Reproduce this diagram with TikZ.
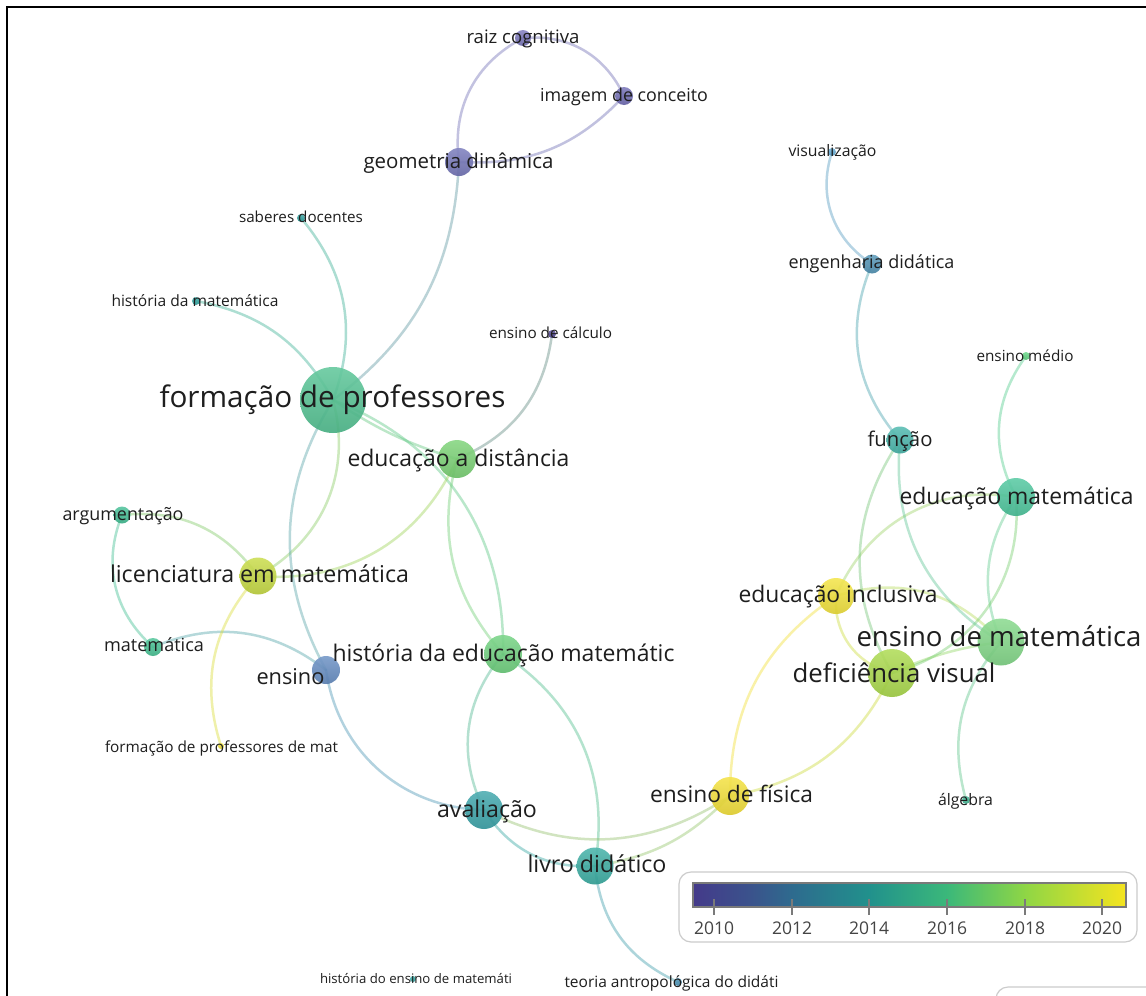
\documentclass[tikz,border=0pt]{standalone}
\usepackage{fontspec}
\setmainfont{Open Sans}
\usetikzlibrary{backgrounds}

\definecolor{colraiz}{HTML}{7470B8}
\definecolor{colimag}{HTML}{6B67B2}
\definecolor{colgeom}{HTML}{6E70B6}
\definecolor{colcalc}{HTML}{4A3F8F}
\definecolor{colsab}{HTML}{2A9E9B}
\definecolor{colhmat}{HTML}{2CA39F}
\definecolor{colform}{HTML}{4CC08E}
\definecolor{coldist}{HTML}{74D06E}
\definecolor{colvis}{HTML}{5AA5D0}
\definecolor{coleng}{HTML}{4A8FB2}
\definecolor{colmedio}{HTML}{5CD37E}
\definecolor{colfunc}{HTML}{40B3A8}
\definecolor{colemat}{HTML}{44C398}
\definecolor{colarg}{HTML}{3BBC90}
\definecolor{collic}{HTML}{C4D93A}
\definecolor{colincl}{HTML}{F2E233}
\definecolor{colensmat}{HTML}{7CD682}
\definecolor{colmat}{HTML}{40C090}
\definecolor{colensino}{HTML}{5F88C0}
\definecolor{colhed}{HTML}{68CF78}
\definecolor{coldef}{HTML}{A6D842}
\definecolor{colfpm}{HTML}{F0E030}
\definecolor{colfis}{HTML}{F3DF2F}
\definecolor{colalg}{HTML}{3AB38F}
\definecolor{colaval}{HTML}{32A0A6}
\definecolor{collivro}{HTML}{32AA9F}
\definecolor{colhens}{HTML}{2AA3A0}
\definecolor{colteoria}{HTML}{4590B5}
\definecolor{labelcol}{HTML}{1E1E1E}
\definecolor{legboxcol}{HTML}{CCCCCC}
\definecolor{tickcol}{HTML}{7A7A7A}
\definecolor{yearcol}{HTML}{444444}
\definecolor{v0}{HTML}{443A8A}
\definecolor{v1}{HTML}{3A548C}
\definecolor{v2}{HTML}{2E6B8E}
\definecolor{v3}{HTML}{21918C}
\definecolor{v4}{HTML}{3BB87A}
\definecolor{v5}{HTML}{8FD645}
\definecolor{v6}{HTML}{F5E41F}

\newcommand\fitw[2]{\setbox0=\hbox{\fontsize{10pt}{12pt}\selectfont #2}%
  \dimen0=\dimexpr 10pt*\numexpr #1*65536\relax/\numexpr\wd0\relax\relax
  \edef\fitsz{\the\dimen0}%
  \fontsize{\fitsz}{\fitsz}\selectfont #2}

\tikzset{
  kw/.style 2 args={circle, inner sep=0pt, minimum size=2*#1,
    top color=#2!85!white, bottom color=#2!90!black, fill opacity=0.9},
  lbl/.style={anchor=base, inner sep=0pt, text=labelcol},
  lnk/.style={line width=2.5pt, draw opacity=0.42, line cap=round},
  yearlbl/.style={anchor=base, inner sep=0pt, text=yearcol},
  tickmark/.style={draw=tickcol, line width=1.2pt},
}

\newcommand\kwn[4]{\node[kw={#4}{col#1}] (#1) at (#2,#3) {};}
\newcommand\lnk[3]{\draw[lnk, draw=col#1!50!col#2] (#1.center) to[#3] (#2.center);}

\begin{document}
\begin{tikzpicture}[x=1pt,y=-1pt]
\useasboundingbox (0,0) rectangle (1146,996);

% nodes
\kwn{raiz}{523}{38}{8}
\kwn{imag}{624}{96}{9}
\kwn{geom}{459}{162}{14}
\kwn{sab}{301}{218}{4}
\kwn{hmat}{196}{301}{4}
\kwn{calc}{552}{334}{4}
\kwn{form}{333}{400}{33}
\kwn{dist}{457}{459}{19}
\kwn{vis}{832}{152}{4}
\kwn{eng}{872}{264}{9.5}
\kwn{medio}{1026}{356}{4}
\kwn{func}{900}{440}{13.5}
\kwn{emat}{1016}{497}{19}
\kwn{arg}{122}{515}{8.5}
\kwn{lic}{258}{576}{18.5}
\kwn{incl}{836}{596}{18}
\kwn{ensmat}{1001}{642}{23.5}
\kwn{mat}{153}{647}{9}
\kwn{ensino}{326}{670}{14}
\kwn{hed}{503}{654}{19}
\kwn{def}{892}{673}{24}
\kwn{fpm}{221}{746}{3}
\kwn{fis}{730}{796}{19}
\kwn{alg}{966}{800}{4}
\kwn{aval}{484}{810}{19}
\kwn{livro}{595}{866}{18.5}
\kwn{hens}{413}{979}{3}
\kwn{teoria}{678}{982}{4}

% links
\begin{pgfonlayer}{background}
\fill[white] (0,0) rectangle (1146,996);
\lnk{raiz}{imag}{bend left=35}
\lnk{raiz}{geom}{bend right=35}
\lnk{imag}{geom}{bend left=25}
\lnk{geom}{form}{bend left=25}
\lnk{sab}{form}{bend left=30}
\lnk{hmat}{form}{bend left=25}
\lnk{calc}{dist}{bend left=30}
\lnk{form}{dist}{bend right=8}
\lnk{form}{hed}{bend left=35}
\lnk{dist}{hed}{bend right=28}
\lnk{dist}{lic}{bend left=35}
\lnk{form}{lic}{bend left=38}
\lnk{form}{ensino}{bend right=30}
\lnk{arg}{lic}{bend left=30}
\lnk{arg}{mat}{bend right=35}
\lnk{mat}{ensino}{bend left=30}
\lnk{lic}{fpm}{bend right=30}
\lnk{ensino}{aval}{bend right=40}
\lnk{hed}{aval}{bend right=33}
\lnk{hed}{livro}{bend left=33}
\lnk{aval}{livro}{bend right=30}
\lnk{aval}{fis}{bend right=30}
\lnk{livro}{fis}{bend right=18}
\lnk{livro}{teoria}{bend right=30}
\lnk{fis}{incl}{bend left=28}
\lnk{fis}{def}{bend right=27}
\lnk{incl}{def}{bend right=40}
\lnk{incl}{ensmat}{bend left=33}
\lnk{def}{ensmat}{bend left=8}
\lnk{emat}{incl}{bend right=38}
\lnk{emat}{ensmat}{bend right=28}
\lnk{emat}{def}{bend left=40}
\lnk{medio}{emat}{bend right=32}
\lnk{vis}{eng}{bend right=38}
\lnk{eng}{func}{bend right=32}
\lnk{func}{def}{bend right=32}
\lnk{func}{ensmat}{bend right=32}
\lnk{ensmat}{alg}{bend right=28}
\end{pgfonlayer}

% labels
\node[lbl] (raiz-l) at (523,43) {\fitw{113}{raiz cognitiva}};
\node[lbl] (imag-l) at (624,101) {\fitw{168}{imagem de conceito}};
\node[lbl] (geom-l) at (458.5,168) {\fitw{190}{geometria dinâmica}};
\node[lbl] (sab-l) at (301,222) {\fitw{124}{saberes docentes}};
\node[lbl] (hmat-l) at (195,306) {\fitw{167}{história da matemática}};
\node[lbl] (calc-l) at (550.5,338) {\fitw{123}{ensino de cálculo}};
\node[lbl] (form-l) at (332.5,407) {\fitw{346}{formação de professores}};
\node[lbl] (dist-l) at (458.5,466) {\fitw{222}{educação a distância}};
\node[lbl] (vis-l) at (832.5,156) {\fitw{88}{visualização}};
\node[lbl] (eng-l) at (871.5,268) {\fitw{166}{engenharia didática}};
\node[lbl] (medio-l) at (1025,361) {\fitw{97}{ensino médio}};
\node[lbl] (func-l) at (900,446) {\fitw{65}{função}};
\node[lbl] (emat-l) at (1016.5,504) {\fitw{234}{educação matemática}};
\node[lbl] (incl-l) at (838,602) {\fitw{199}{educação inclusiva}};
\node[lbl] (ensmat-l) at (999,646) {\fitw{285}{ensino de matemática}};
\node[lbl] (def-l) at (894,682) {\fitw{203}{deficiência visual}};
\node[lbl] (arg-l) at (123,520) {\fitw{121}{argumentação}};
\node[lbl] (lic-l) at (259.5,582) {\fitw{299}{licenciatura em matemática}};
\node[lbl] (mat-l) at (154,651) {\fitw{100}{matemática}};
\node[lbl] (ensino-l) at (290.5,684) {\fitw{68}{ensino}};
\node[lbl] (fpm-l) at (221.5,752) {\fitw{233}{formação de professores de mat}};
\node[lbl] (hed-l) at (503.5,661) {\fitw{342}{história da educação matemátic}};
\node[lbl] (aval-l) at (487,817) {\fitw{100}{avaliação}};
\node[lbl] (livro-l) at (597,872) {\fitw{139}{livro didático}};
\node[lbl] (fis-l) at (731.5,802) {\fitw{163}{ensino de física}};
\node[lbl] (alg-l) at (965.5,805) {\fitw{55}{álgebra}};
\node[lbl] (hens-l) at (416,983) {\fitw{192}{história do ensino de matemáti}};
\node[lbl] (teoria-l) at (671.5,987) {\fitw{214}{teoria antropológica do didáti}};

% legend
\node[draw=legboxcol, fill=white, line width=1.2pt, rounded corners=12pt, minimum width=458pt,
  minimum height=70pt, inner sep=0pt] (legend) at (908,907) {};
\shade[left color=v0, right color=v1] (693,883) rectangle (753.5,907);
\shade[left color=v1, right color=v2] (753,883) rectangle (792.5,907);
\shade[left color=v2, right color=v3] (792,883) rectangle (869.5,907);
\shade[left color=v3, right color=v4] (869,883) rectangle (947.5,907);
\shade[left color=v4, right color=v5] (947,883) rectangle (1025.5,907);
\shade[left color=v5, right color=v6] (1025,883) rectangle (1126,907);
\draw[draw=tickcol, line width=1.2pt] (693,883) rectangle (1126,907);
\foreach \yr/\xx in {2010/714, 2012/792, 2014/869, 2016/947, 2018/1025, 2020/1102}{
  \draw[tickmark] (\xx,899) -- (\xx,915);
  \node[yearlbl] (yr\yr) at (\xx,934) {\fitw{40}{\yr}};
}
% partial box at bottom right
\draw[draw=legboxcol, line width=1.2pt, rounded corners=12pt] (996,1030) -- (996,987) -- (1170,987);

% frame
\draw[line width=2.2pt, line cap=rect] (7,996) -- (7,7) -- (1146,7);
\end{tikzpicture}
\end{document}
